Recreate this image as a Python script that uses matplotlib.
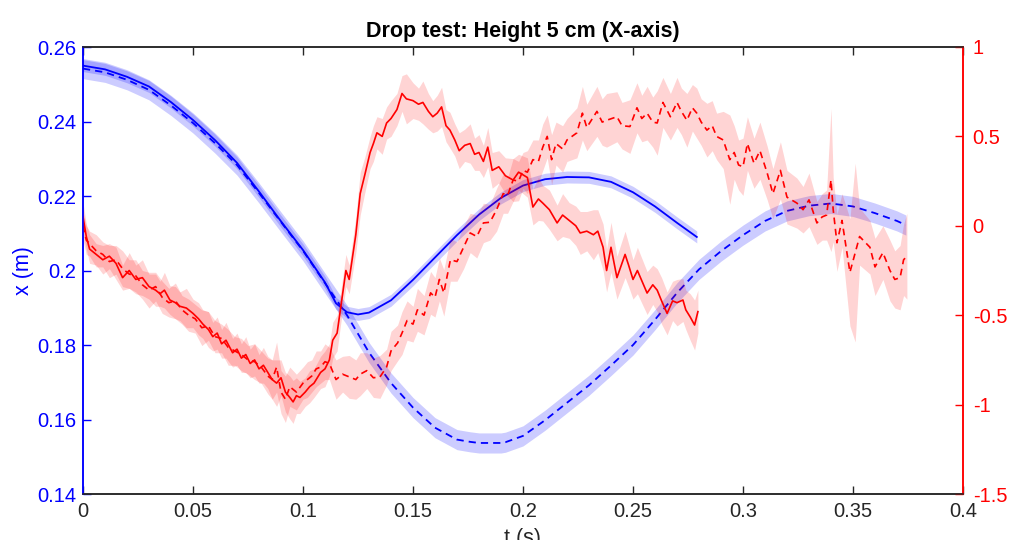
import numpy as np
import matplotlib
matplotlib.use("Agg")
import matplotlib.pyplot as plt

plt.rcParams['font.family'] = ['Liberation Sans', 'DejaVu Sans']
plt.rcParams['axes.unicode_minus'] = False

# ---------------- data ----------------
t_pos_solid = [0.000, 0.010, 0.020, 0.030, 0.040, 0.050, 0.060, 0.070, 0.080, 0.090,
               0.100, 0.110, 0.115, 0.120, 0.125, 0.130, 0.140, 0.150, 0.160, 0.170,
               0.180, 0.190, 0.200, 0.210, 0.220, 0.230, 0.240, 0.250, 0.260, 0.270, 0.279]
x_pos_solid = [0.2550, 0.2540, 0.2520, 0.2494, 0.2452, 0.2404, 0.2350, 0.2289, 0.2212, 0.2132,
               0.2055, 0.1968, 0.1912, 0.1888, 0.1882, 0.1887, 0.1920, 0.1975, 0.2035, 0.2095,
               0.2150, 0.2195, 0.2228, 0.2245, 0.2251, 0.2250, 0.2238, 0.2210, 0.2172, 0.2128, 0.2090]
sd_pos_solid = 0.0016

t_pos_dash = [0.000, 0.010, 0.020, 0.030, 0.040, 0.050, 0.060, 0.070, 0.080, 0.090,
              0.100, 0.110, 0.120, 0.130, 0.140, 0.150, 0.160, 0.170, 0.176, 0.180, 0.190,
              0.192, 0.200, 0.210, 0.220, 0.230, 0.240, 0.250, 0.260, 0.270, 0.280, 0.290,
              0.300, 0.310, 0.320, 0.330, 0.340, 0.350, 0.360, 0.370, 0.374]
x_pos_dash = [0.2542, 0.2532, 0.2512, 0.2485, 0.2443, 0.2396, 0.2342, 0.2283, 0.2208, 0.2130,
              0.2053, 0.1966, 0.1880, 0.1780, 0.1698, 0.1632, 0.1578, 0.1546, 0.1540, 0.1537, 0.1537,
              0.1539, 0.1556, 0.1598, 0.1645, 0.1692, 0.1745, 0.1800, 0.1868, 0.1940, 0.2003, 0.2052,
              0.2095, 0.2133, 0.2160, 0.2174, 0.2180, 0.2172, 0.2154, 0.2133, 0.2122]
sd_pos_dash = 0.0027

t_vel_solid = [0.000, 0.0015, 0.003, 0.006, 0.009, 0.012, 0.015, 0.018, 0.021, 0.024,
               0.027, 0.030, 0.033, 0.035, 0.037, 0.0395, 0.042, 0.044, 0.047, 0.050,
               0.0525, 0.0545, 0.057, 0.059, 0.061, 0.063, 0.065, 0.068, 0.070, 0.072,
               0.074, 0.076, 0.078, 0.080, 0.082, 0.084, 0.086, 0.088, 0.090, 0.092,
               0.094, 0.0955, 0.097, 0.0986, 0.101, 0.103, 0.105, 0.108, 0.110, 0.112,
               0.1135, 0.1155, 0.117, 0.1195, 0.121, 0.124, 0.126, 0.128, 0.1305, 0.132,
               0.1336, 0.136, 0.138, 0.140, 0.1427, 0.145, 0.147, 0.150, 0.1525, 0.1545,
               0.157, 0.159, 0.161, 0.163, 0.165, 0.1668, 0.169, 0.171, 0.1735, 0.176,
               0.178, 0.180, 0.182, 0.184, 0.186, 0.189, 0.192, 0.1955, 0.198, 0.202,
               0.2045, 0.207, 0.209, 0.212, 0.2155, 0.218, 0.221, 0.224, 0.226, 0.229,
               0.232, 0.234, 0.2364, 0.238, 0.240, 0.2427, 0.2464, 0.248, 0.250, 0.252,
               0.2564, 0.259, 0.261, 0.263, 0.2655, 0.268, 0.270, 0.2727, 0.274, 0.276,
               0.278, 0.2795]
v_vel_solid = [0.05, -0.06, -0.13, -0.16, -0.19, -0.17, -0.21, -0.29, -0.25, -0.30,
               -0.29, -0.34, -0.36, -0.38, -0.36, -0.415, -0.43, -0.45, -0.46, -0.49,
               -0.52, -0.55, -0.58, -0.62, -0.60, -0.66, -0.64, -0.71, -0.69, -0.74,
               -0.72, -0.77, -0.75, -0.80, -0.78, -0.82, -0.86, -0.88, -0.85, -0.93,
               -0.96, -0.985, -0.95, -0.96, -0.93, -0.90, -0.88, -0.82, -0.80, -0.75,
               -0.64, -0.60, -0.47, -0.25, -0.30, -0.05, 0.18, 0.28, 0.41, 0.46,
               0.52, 0.50, 0.575, 0.60, 0.65, 0.74, 0.71, 0.70, 0.68, 0.69,
               0.64, 0.61, 0.63, 0.665, 0.56, 0.535, 0.48, 0.42, 0.45, 0.46,
               0.40, 0.41, 0.36, 0.44, 0.31, 0.33, 0.28, 0.256, 0.30, 0.27,
               0.105, 0.15, 0.127, 0.09, 0.016, 0.06, 0.03, 0.00, -0.04, -0.03,
               -0.05, -0.03, -0.12, -0.25, -0.12, -0.29, -0.16, -0.22, -0.30, -0.25,
               -0.376, -0.33, -0.36, -0.42, -0.49, -0.42, -0.43, -0.415, -0.47, -0.51,
               -0.555, -0.48]
sd_vel_solid = [0.08, 0.07, 0.08, 0.06, 0.08, 0.07, 0.09, 0.07, 0.10, 0.08,
                0.10, 0.07, 0.09, 0.07, 0.10, 0.08, 0.09, 0.08, 0.11, 0.08,
                0.09, 0.08, 0.10, 0.08, 0.09, 0.08, 0.10, 0.08, 0.09, 0.08,
                0.10, 0.08, 0.09, 0.08, 0.10, 0.09, 0.11, 0.13, 0.10, 0.11,
                0.12, 0.12, 0.10, 0.09, 0.08, 0.09, 0.08, 0.09, 0.10, 0.09,
                0.10, 0.10, 0.09, 0.09, 0.08, 0.10, 0.12, 0.10, 0.09, 0.10,
                0.09, 0.10, 0.09, 0.10, 0.09, 0.10, 0.14, 0.10, 0.09, 0.12,
                0.10, 0.09, 0.10, 0.11, 0.09, 0.10, 0.09, 0.10, 0.09, 0.11,
                0.09, 0.10, 0.09, 0.11, 0.10, 0.09, 0.10, 0.12, 0.10, 0.11,
                0.10, 0.12, 0.10, 0.11, 0.10, 0.12, 0.10, 0.11, 0.12, 0.11,
                0.14, 0.12, 0.13, 0.12, 0.14, 0.12, 0.13, 0.12, 0.11, 0.13,
                0.12, 0.11, 0.12, 0.13, 0.12, 0.11, 0.13, 0.12, 0.11, 0.13,
                0.14, 0.12]

t_vel_dash = [0.000, 0.0015, 0.003, 0.006, 0.009, 0.012, 0.015, 0.018, 0.021, 0.024,
              0.027, 0.030, 0.033, 0.036, 0.039, 0.042, 0.045, 0.048, 0.051, 0.054,
              0.057, 0.060, 0.063, 0.066, 0.069, 0.072, 0.075, 0.078, 0.081, 0.084,
              0.086, 0.088, 0.090, 0.092, 0.094, 0.097, 0.100, 0.102, 0.104, 0.106,
              0.108, 0.110, 0.112, 0.115, 0.118, 0.121, 0.124, 0.126, 0.129, 0.132,
              0.135, 0.138, 0.140, 0.143, 0.145, 0.1473, 0.150, 0.152, 0.155, 0.158,
              0.160, 0.162, 0.164, 0.167, 0.170, 0.173, 0.176, 0.179, 0.182, 0.185,
              0.188, 0.191, 0.193, 0.1955, 0.198, 0.200, 0.202, 0.2045, 0.207, 0.209,
              0.211, 0.213, 0.215, 0.218, 0.220, 0.2245, 0.227, 0.229, 0.2336, 0.236,
              0.238, 0.2427, 0.245, 0.2486, 0.2518, 0.254, 0.2564, 0.259, 0.261, 0.2636,
              0.267, 0.270, 0.272, 0.2745, 0.277, 0.279, 0.281, 0.2836, 0.286, 0.288,
              0.291, 0.294, 0.296, 0.298, 0.300, 0.302, 0.305, 0.3077, 0.311, 0.3136,
              0.317, 0.320, 0.3245, 0.3273, 0.330, 0.3336, 0.336, 0.338, 0.340, 0.341,
              0.3427, 0.345, 0.3486, 0.351, 0.353, 0.3577, 0.360, 0.3636, 0.3668, 0.369,
              0.3714, 0.373, 0.3745]
v_vel_dash = [0.00, -0.08, -0.10, -0.14, -0.16, -0.20, -0.19, -0.24, -0.27, -0.28,
              -0.33, -0.36, -0.34, -0.40, -0.43, -0.42, -0.47, -0.50, -0.52, -0.57,
              -0.56, -0.62, -0.63, -0.68, -0.70, -0.72, -0.75, -0.76, -0.79, -0.84,
              -0.86, -0.79, -0.93, -0.97, -0.90, -0.93, -0.88, -0.86, -0.84, -0.80,
              -0.79, -0.76, -0.77, -0.86, -0.83, -0.845, -0.86, -0.83, -0.81, -0.85,
              -0.845, -0.79, -0.70, -0.655, -0.60, -0.53, -0.55, -0.47, -0.50, -0.375,
              -0.40, -0.30, -0.375, -0.19, -0.20, -0.12, -0.04, -0.06, 0.016, 0.02,
              0.09, 0.18, 0.17, 0.256, 0.25, 0.31, 0.30, 0.37, 0.36, 0.44,
              0.50, 0.37, 0.46, 0.43, 0.48, 0.52, 0.63, 0.55, 0.64, 0.58,
              0.59, 0.61, 0.56, 0.555, 0.66, 0.60, 0.63, 0.58, 0.575, 0.69,
              0.61, 0.69, 0.64, 0.59, 0.66, 0.63, 0.58, 0.535, 0.56, 0.50,
              0.48, 0.37, 0.41, 0.34, 0.33, 0.46, 0.35, 0.42, 0.295, 0.18,
              0.31, 0.16, 0.127, 0.09, 0.145, 0.016, 0.05, 0.06, 0.256, 0.09,
              -0.095, 0.03, -0.26, -0.15, -0.06, -0.12, -0.23, -0.15, -0.25, -0.30,
              -0.29, -0.19, -0.17]
sd_vel_dash = [0.08, 0.08, 0.07, 0.09, 0.07, 0.09, 0.08, 0.10, 0.08, 0.09,
               0.08, 0.10, 0.08, 0.09, 0.08, 0.10, 0.08, 0.09, 0.08, 0.10,
               0.08, 0.09, 0.08, 0.10, 0.08, 0.09, 0.08, 0.10, 0.09, 0.10,
               0.11, 0.14, 0.12, 0.13, 0.11, 0.10, 0.09, 0.10, 0.09, 0.10,
               0.09, 0.10, 0.09, 0.11, 0.10, 0.12, 0.11, 0.12, 0.10, 0.11,
               0.12, 0.10, 0.11, 0.10, 0.12, 0.11, 0.10, 0.12, 0.11, 0.12,
               0.11, 0.12, 0.13, 0.12, 0.11, 0.12, 0.11, 0.12, 0.11, 0.10,
               0.12, 0.11, 0.10, 0.12, 0.11, 0.10, 0.12, 0.11, 0.12, 0.13,
               0.12, 0.14, 0.12, 0.13, 0.12, 0.14, 0.15, 0.13, 0.14, 0.13,
               0.15, 0.14, 0.13, 0.15, 0.14, 0.13, 0.15, 0.14, 0.18, 0.14,
               0.13, 0.14, 0.13, 0.15, 0.13, 0.14, 0.13, 0.15, 0.14, 0.13,
               0.16, 0.25, 0.15, 0.14, 0.16, 0.15, 0.14, 0.16, 0.15, 0.14,
               0.16, 0.15, 0.14, 0.13, 0.15, 0.12, 0.13, 0.14, 0.40, 0.18,
               0.16, 0.15, 0.30, 0.50, 0.16, 0.15, 0.16, 0.15, 0.17, 0.16,
               0.18, 0.20, 0.24]

title_text = "Drop test: Height 5 cm (X-axis)"
xlabel_text = "t (s)"
ylabel_left = "x (m)"
ylabel_right = "v (m/s)"
xticks = [0, 0.05, 0.1, 0.15, 0.2, 0.25, 0.3, 0.35, 0.4]
yticks_left = [0.14, 0.16, 0.18, 0.2, 0.22, 0.24, 0.26]
yticks_right = [-1.5, -1, -0.5, 0, 0.5, 1]

# ---------------- plot ----------------
BLUE = (0, 0, 1)
RED = (1, 0, 0)
DARK = (0.15, 0.15, 0.15)

fig = plt.figure(figsize=(10.16, 5.40), dpi=100)
ax = fig.add_axes([83 / 1016, 1 - 494 / 540, 880 / 1016, 447 / 540])
ax2 = ax.twinx()

def band(a, t, v, s, color, alpha):
    t = np.asarray(t); v = np.asarray(v); s = np.asarray(s) * np.ones_like(v)
    a.fill_between(t, v - s, v + s, color=color, alpha=alpha, linewidth=0)

band(ax, t_pos_dash, x_pos_dash, sd_pos_dash, BLUE, 0.2)
band(ax, t_pos_solid, x_pos_solid, sd_pos_solid, BLUE, 0.2)
ax.plot(t_pos_dash, x_pos_dash, color=BLUE, lw=1.3, dashes=(4, 2.8))
ax.plot(t_pos_solid, x_pos_solid, color=BLUE, lw=1.3)

band(ax2, t_vel_dash, v_vel_dash, sd_vel_dash, RED, 0.17)
band(ax2, t_vel_solid, v_vel_solid, sd_vel_solid, RED, 0.17)
ax2.plot(t_vel_dash, v_vel_dash, color=RED, lw=1.2, dashes=(4, 2.8))
ax2.plot(t_vel_solid, v_vel_solid, color=RED, lw=1.2)

fmt = matplotlib.ticker.FuncFormatter(lambda v, p: "%g" % round(v, 4))

ax.set_xlim(0, 0.4)
ax.set_ylim(0.14, 0.26)
ax2.set_ylim(-1.5, 1)
ax.set_xticks(xticks)
ax.set_yticks(yticks_left)
ax2.set_yticks(yticks_right)
ax.xaxis.set_major_formatter(fmt)
ax.yaxis.set_major_formatter(fmt)
ax2.yaxis.set_major_formatter(fmt)

ax.tick_params(axis='x', direction='in', length=5.5, width=1, colors=DARK,
               labelsize=14.5, top=True, pad=6)
ax.tick_params(axis='y', direction='in', length=5.5, width=1, colors=BLUE,
               labelsize=14.5, pad=5)
ax2.tick_params(axis='y', direction='in', length=5.5, width=1, colors=RED,
                labelsize=14.5, pad=7)

for a in (ax, ax2):
    a.spines['top'].set_color(DARK)
    a.spines['bottom'].set_color(DARK)
    a.spines['left'].set_color(BLUE)
    a.spines['right'].set_color(RED)
    for sp in a.spines.values():
        sp.set_linewidth(1.1)

ax.set_title(title_text, fontsize=15.5, fontweight='bold', pad=7)
ax.set_xlabel(xlabel_text, fontsize=15.5, color=DARK, labelpad=5)
ax.set_ylabel(ylabel_left, fontsize=15.5, color=BLUE, labelpad=2)
ax2.set_ylabel(ylabel_right, fontsize=15.5, color=RED, labelpad=10)

fig.savefig("out.png", dpi=100)
